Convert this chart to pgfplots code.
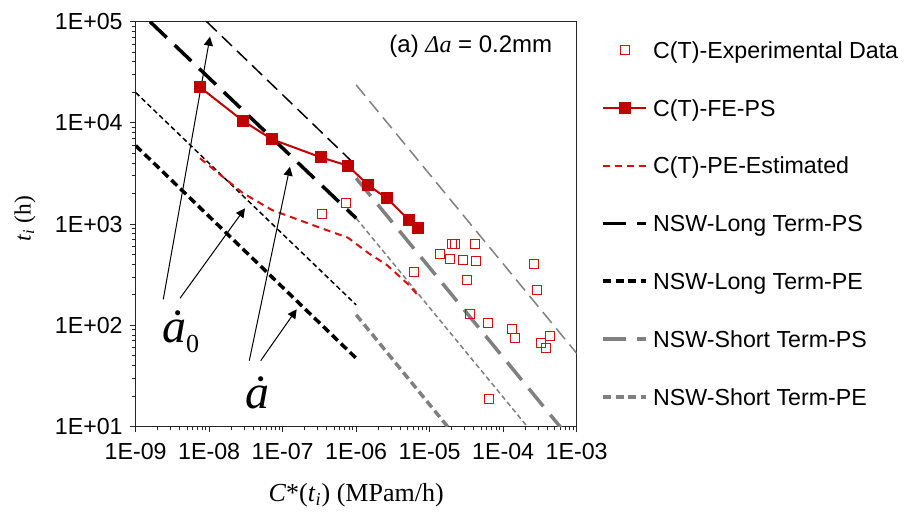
\documentclass[border=0pt]{standalone}
\usepackage{pgfplots}
\pgfplotsset{compat=1.18}
\usepackage{fontspec}
\setmainfont{Liberation Sans}
\newfontfamily\tnr{Liberation Serif}
\usetikzlibrary{arrows.meta}

\definecolor{dred}{RGB}{192,0,0}
\definecolor{lred}{RGB}{215,15,15}
\definecolor{mgray}{RGB}{128,128,128}

\begin{document}
\begin{tikzpicture}
\useasboundingbox (0,0) rectangle (457.5pt,256pt);
\begin{axis}[
  at={(67.85pt,42.75pt)}, anchor=south west,
  scale only axis, width=220.5pt, height=202.4pt,
  xmode=log, ymode=log,
  xmin=1e-9, xmax=1e-3, ymin=10, ymax=1e5,
  xtick={1e-9,1e-8,1e-7,1e-6,1e-5,1e-4,1e-3},
  xticklabels={1E-09,1E-08,1E-07,1E-06,1E-05,1E-04,1E-03},
  ytick={10,100,1000,10000,100000},
  yticklabels={1E+01,1E+02,1E+03,1E+04,1E+05},
  tick align=outside, xtick pos=bottom, ytick pos=left,
  major tick length=3pt, minor tick length=2pt,
  axis line style={black!85, line width=0.6pt},
  every tick/.style={black!85, line width=0.5pt},
  tick label style={font=\fontsize{11.6}{13}\selectfont},
  xticklabel style={yshift=-2pt},
  xlabel={{\tnr\textit{C}*(\textit{t}\textsubscript{\textit{i}}) (MPam/h)}},
  ylabel={{\tnr\textit{t}\textsubscript{\textit{i}} (h)}},
  xlabel style={at={(axis description cs:0.5,-0.1692)}, anchor=center, font=\fontsize{13}{15}\selectfont},
  ylabel style={at={(axis description cs:-0.251,0.513)}, anchor=center, font=\fontsize{11.7}{14}\selectfont},
  legend style={at={(1,1)}, anchor=north west, xshift=12.5pt, yshift=-10pt,
    draw=none, fill=none, inner sep=0pt, outer sep=0pt,
    row sep=20.6pt, column sep=2.5pt,
    font=\fontsize{11.6}{13}\selectfont,
    nodes={inner sep=0pt, text height=8.3pt, text depth=0pt},
    cells={anchor=west}},
  legend cell align=left,
  legend image code/.code={\draw[mark repeat=2,mark phase=2,#1] plot coordinates {(0pt,0pt) (10.75pt,0pt) (21.5pt,0pt)};},
]

% NSW bounds, drawn underneath the FE and test data
\addplot[forget plot, black, line width=1.75pt, dash pattern=on 11.5pt off 5.5pt] coordinates {(1.567e-9,1e5) (1e-6,1141)};
\addplot[forget plot, black, line width=1.75pt, dash pattern=on 4pt off 2.2pt] coordinates {(1e-9,5960) (1e-6,47.2)};
\addplot[forget plot, black, line width=0.75pt, dash pattern=on 7pt off 3.5pt] coordinates {(9.25e-9,1e5) (1e-6,3777)};
\addplot[forget plot, black, line width=0.75pt, dash pattern=on 2.5pt off 1.6pt] coordinates {(1e-9,19950) (1e-6,159)};
\addplot[forget plot, mgray, line width=1.75pt, dash pattern=on 11.5pt off 5.5pt] coordinates {(1e-6,2836) (1e-3,6.28)};
\addplot[forget plot, mgray, line width=1.75pt, dash pattern=on 4pt off 2.2pt] coordinates {(1e-6,127) (1e-3,0.274)};
\addplot[forget plot, mgray, line width=0.75pt, dash pattern=on 7pt off 3.5pt] coordinates {(1e-6,23700) (1e-3,52.8)};
\addplot[forget plot, mgray, line width=0.75pt, dash pattern=on 2.5pt off 1.6pt] coordinates {(1e-6,1141) (1e-3,2.54)};

% C(T) experimental data
\addplot[only marks, lred, mark=square, mark size=2.25pt, mark options={line width=0.6pt}] coordinates {
(3.40e-7,1250) (7.26e-7,1627) (6.11e-6,339) (1.37e-5,510) (1.87e-5,452)
(2.01e-5,631) (2.23e-5,631) (2.81e-5,442) (4.09e-5,636) (4.27e-5,435)
(3.18e-5,279) (3.53e-5,129) (6.15e-5,105) (6.41e-5,18.8) (1.31e-4,91.3)
(1.46e-4,74.9) (2.62e-4,401) (2.86e-4,223) (3.24e-4,66.4) (3.78e-4,60.1)
(4.34e-4,78.4)};
\addlegendentry{C(T)-Experimental Data}

% C(T) FE, plane stress
\addplot[dred, line width=1pt, mark=square*, mark size=2.5pt, mark options={solid, fill=dred}] coordinates {
(7.50e-9,22490) (2.86e-8,10510) (7.14e-8,6885) (3.29e-7,4571) (7.72e-7,3777)
(1.46e-6,2417) (2.62e-6,1799) (5.22e-6,1091) (7.0e-6,915)};
\addlegendentry{C(T)-FE-PS}

% C(T) plane strain estimate
\addplot[lred, line width=1pt, dash pattern=on 3.5pt off 2.5pt] coordinates {
(7.50e-9,4467) (2.86e-8,2029) (7.14e-8,1378) (3.29e-7,915) (7.72e-7,734)
(1.46e-6,518) (2.62e-6,394) (5.22e-6,250) (7.0e-6,195)};
\addlegendentry{C(T)-PE-Estimated}

\addlegendimage{black, line width=1.75pt, dash pattern=on 11.5pt off 5.5pt}
\addlegendentry{NSW-Long Term-PS}
\addlegendimage{black, line width=1.75pt, dash pattern=on 4pt off 2.2pt}
\addlegendentry{NSW-Long Term-PE}
\addlegendimage{mgray, line width=1.75pt, dash pattern=on 11.5pt off 5.5pt}
\addlegendentry{NSW-Short Term-PS}
\addlegendimage{mgray, line width=1.75pt, dash pattern=on 4pt off 2.2pt}
\addlegendentry{NSW-Short Term-PE}

% crack growth rate annotations
\draw[black, line width=0.5pt, -{Triangle[length=4.5pt,width=4.5pt]}] (axis cs:2.373e-9,180.6) -- (axis cs:1.026e-8,71100);
\draw[black, line width=0.5pt, -{Triangle[length=4.5pt,width=4.5pt]}] (axis cs:4.01e-9,185) -- (axis cs:3.07e-8,1432);
\draw[black, line width=0.5pt, -{Triangle[length=4.5pt,width=4.5pt]}] (axis cs:3.51e-8,44.7) -- (axis cs:1.256e-7,3690);
\draw[black, line width=0.5pt, -{Triangle[length=4.5pt,width=4.5pt]}] (axis cs:5.02e-8,44.7) -- (axis cs:1.55e-7,144);
\node[anchor=base west, inner sep=0pt] at (rel axis cs:0.059,0.2063)
  {\tnr\fontsize{24}{28}\selectfont\textit{\.{a}}\raisebox{-5pt}{\fontsize{13}{15}\selectfont 0}};
\node[anchor=base west, inner sep=0pt] at (rel axis cs:0.248,0.045)
  {\tnr\fontsize{24}{28}\selectfont\textit{\.{a}}};

\node[anchor=center, inner sep=0pt, font=\fontsize{12}{14}\selectfont] at (rel axis cs:0.760,0.938)
  {(a) {\tnr\itshape Δa} = 0.2mm};
\end{axis}
\end{tikzpicture}
\end{document}
